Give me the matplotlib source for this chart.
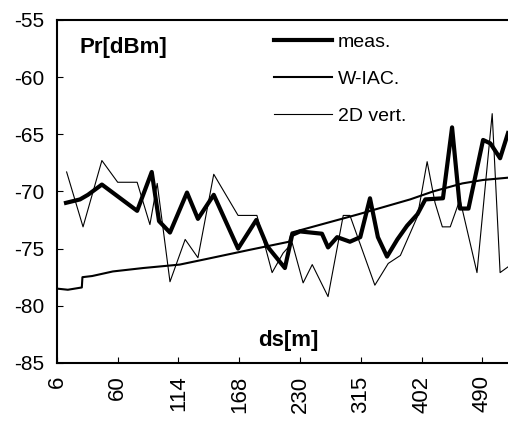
import matplotlib
matplotlib.use('Agg')
import matplotlib.pyplot as plt

plt.rcParams['font.family'] = ['Liberation Sans', 'DejaVu Sans']
plt.rcParams['axes.unicode_minus'] = False

# x positions are category-axis positions (one unit = one labelled tick)
tick_labels = ['6', '60', '114', '168', '230', '315', '402', '490']

meas_x = [0.15, 0.38, 0.51, 0.74, 1.32, 1.56, 1.68, 1.86, 2.14, 2.32, 2.58, 2.98,
          3.28, 3.46, 3.75, 3.87, 4.00, 4.36, 4.46, 4.61, 4.82, 4.99, 5.15, 5.28,
          5.43, 5.60, 5.76, 5.93, 6.06, 6.35, 6.50, 6.63, 6.77, 7.01, 7.13, 7.29, 7.42]
meas_y = [-71.0, -70.7, -70.3, -69.4, -71.7, -68.3, -72.6, -73.6, -70.1, -72.4, -70.3, -75.0,
          -72.5, -74.8, -76.7, -73.8, -73.5, -73.7, -74.9, -74.0, -74.4, -74.0, -70.6, -74.0,
          -75.7, -74.2, -73.0, -72.0, -70.7, -70.6, -64.4, -71.5, -71.5, -65.5, -65.8, -67.1, -64.9]

wiac_x = [0.00, 0.18, 0.41, 0.42, 0.58, 0.92, 1.42, 2.02, 2.47, 3.18, 3.82, 3.86,
          4.96, 5.81, 6.19, 6.67, 7.01, 7.42]
wiac_y = [-78.5, -78.6, -78.4, -77.5, -77.4, -77.0, -76.7, -76.4, -75.9, -75.1, -74.4, -73.6,
          -72.0, -70.7, -70.0, -69.3, -69.0, -68.8]

vert_x = [0.16, 0.43, 0.74, 1.00, 1.32, 1.53, 1.65, 1.86, 2.11, 2.32, 2.58, 2.98, 3.29,
          3.54, 3.72, 3.87, 4.05, 4.20, 4.46, 4.71, 4.82, 5.23, 5.45, 5.65, 5.93, 6.09,
          6.22, 6.34, 6.47, 6.63, 6.91, 7.16, 7.29, 7.42]
vert_y = [-68.3, -73.1, -67.3, -69.2, -69.2, -72.9, -69.3, -77.9, -74.2, -75.8, -68.5, -72.1, -72.1,
          -77.1, -75.4, -74.5, -78.0, -76.4, -79.2, -72.1, -72.1, -78.2, -76.3, -75.6, -72.2, -67.4,
          -71.0, -73.1, -73.1, -70.7, -77.1, -63.2, -77.1, -76.6]

fig = plt.figure(figsize=(5.08, 4.23), dpi=100)
ax = fig.add_axes([0.112, 0.142, 0.888, 0.811])

ax.plot(meas_x, meas_y, color='black', lw=3.0, label='meas.', solid_joinstyle='round')
ax.plot(wiac_x, wiac_y, color='black', lw=1.5, label='W-IAC.')
ax.plot(vert_x, vert_y, color='black', lw=0.8, label='2D vert.')

ax.set_xlim(0, 7.42)
ax.set_ylim(-85, -55)
ax.set_xticks(range(len(tick_labels)))
ax.set_xticklabels(tick_labels, rotation=90, fontsize=16)
ax.set_yticks(range(-85, -54, 5))
ax.tick_params(axis='y', labelsize=15, pad=9, direction='in', length=4)
ax.tick_params(axis='x', pad=9, direction='in', length=4)

for s in ['left', 'bottom', 'top']:
    ax.spines[s].set_linewidth(1.5)
ax.spines['right'].set_visible(False)

ax.text(0.05, 0.92, 'Pr[dBm]', transform=ax.transAxes, fontsize=16,
        fontweight='bold', va='center', ha='left')
ax.text(0.512, 0.065, 'ds[m]', transform=ax.transAxes, fontsize=16,
        fontweight='bold', va='center', ha='center')

ax.legend(loc='upper left', bbox_to_anchor=(0.45, 1.0), frameon=False, fontsize=14,
          handlelength=3.0, handletextpad=0.3, labelspacing=1.0, borderaxespad=0.3)

fig.savefig('out.png', dpi=100)
